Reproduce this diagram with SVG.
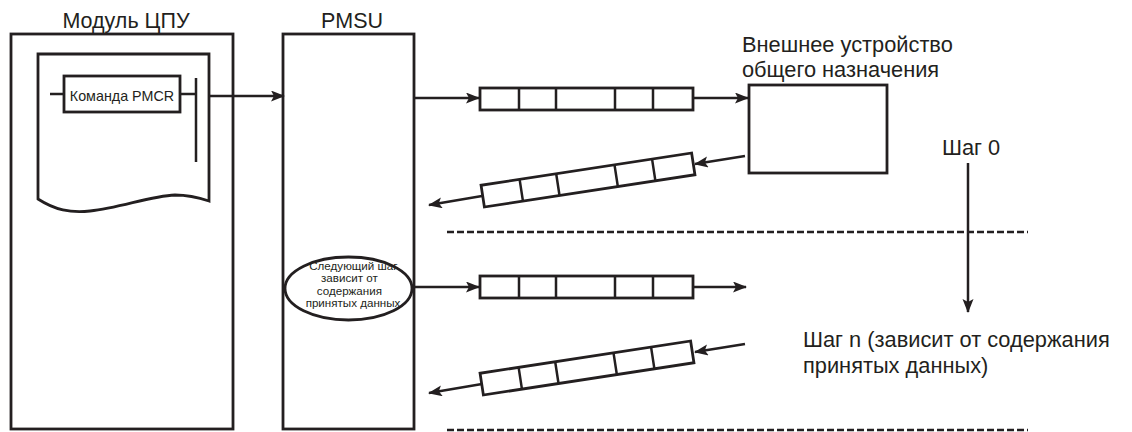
<svg xmlns="http://www.w3.org/2000/svg" width="1132" height="432" viewBox="0 0 1132 432">
<style>
.ln{fill:none;stroke:#231f20;stroke-width:2.5}
.bx{fill:#fff;stroke:#231f20;stroke-width:2.8}
.dash{fill:none;stroke:#231f20;stroke-width:2.5;stroke-dasharray:7 3}
.t{font-family:"Liberation Sans",Arial,sans-serif;fill:#231f20}
.big{font-size:21.8px}
.top{font-size:21.5px}
.sm{font-size:11.6px}
.cmd{font-size:14.3px}
.ar{marker-end:url(#ah)}
</style>
<defs>
<marker id="ah" markerUnits="userSpaceOnUse" markerWidth="15" markerHeight="12" refX="13" refY="5.5" orient="auto">
<path d="M0,0 L14,5.5 L0,11 L3,5.5 Z" fill="#231f20"/>
</marker>
<g id="frame">
<rect x="0" y="0" width="213" height="22" class="bx"/>
<path d="M39,0V22M76,0V22M135,0V22M173,0V22" class="ln" stroke-width="2.8"/>
</g>
</defs>

<g id="cpu">
<rect x="11" y="34" width="222" height="395" class="bx"/>
<path d="M38,54 H209 V201 C200,198 190,195 175,195 C150,196 120,208 90,211 C70,213 55,210 38,199 Z" class="bx"/>
<text x="126" y="28" text-anchor="middle" class="t top">Модуль ЦПУ</text>
</g>

<g id="pmcr">
<path d="M50,94 H64 M180,94 H196 M196,78 V162" class="ln"/>
<rect x="64" y="76" width="116" height="36" class="bx"/>
<text x="122" y="101" text-anchor="middle" class="t cmd">Команда PMCR</text>
</g>

<g id="pmsu">
<rect x="283" y="34" width="131" height="395" class="bx"/>
<text x="352" y="28" text-anchor="middle" class="t top">PMSU</text>
</g>

<g id="decision">
<ellipse cx="348.5" cy="288.5" rx="63.5" ry="31.5" class="bx"/>
<text text-anchor="middle" class="t sm">
<tspan x="355" y="269.5">Следующий шаг</tspan>
<tspan x="351" y="282">зависит от</tspan>
<tspan x="351" y="294.5">содержания</tspan>
<tspan x="353" y="307">принятых данных</tspan>
</text>
</g>

<g id="device">
<rect x="749" y="85" width="138" height="88" class="bx"/>
<text class="t big"><tspan x="742" y="52">Внешнее устройство</tspan><tspan x="742" y="77">общего назначения</tspan></text>
</g>

<g id="frame1"><use href="#frame" transform="translate(480,88)"/></g>
<g id="frame2"><use href="#frame" transform="translate(588,180) rotate(-8.7) translate(-106.5,-11)"/></g>
<g id="frame3"><use href="#frame" transform="translate(480,276)"/></g>
<g id="frame4"><use href="#frame" transform="translate(587,368) rotate(-8.7) translate(-106.5,-11)"/></g>

<g id="steps">
<text x="942" y="155" class="t big">Шаг 0</text>
<text class="t big"><tspan x="803" y="347">Шаг n (зависит от содержания</tspan><tspan x="803" y="373">принятых данных)</tspan></text>
</g>

<g id="connectors">
<line x1="209" y1="96" x2="284" y2="96" class="ln ar"/>
<line x1="414" y1="98" x2="479" y2="98" class="ln ar"/>
<line x1="693" y1="98" x2="748" y2="98" class="ln ar"/>
<line x1="745" y1="156" x2="695" y2="164" class="ln ar"/>
<line x1="482" y1="196" x2="429" y2="205" class="ln ar"/>
<line x1="414" y1="287" x2="479" y2="287" class="ln ar"/>
<line x1="693" y1="287" x2="746" y2="287" class="ln ar"/>
<line x1="745" y1="344" x2="695" y2="352" class="ln ar"/>
<line x1="482" y1="384" x2="429" y2="393" class="ln ar"/>
<line x1="968" y1="163" x2="968" y2="312" class="ln ar"/>
<line x1="447" y1="232" x2="1028" y2="232" class="dash"/>
<line x1="447" y1="430" x2="1028" y2="430" class="dash"/>
</g>
</svg>
